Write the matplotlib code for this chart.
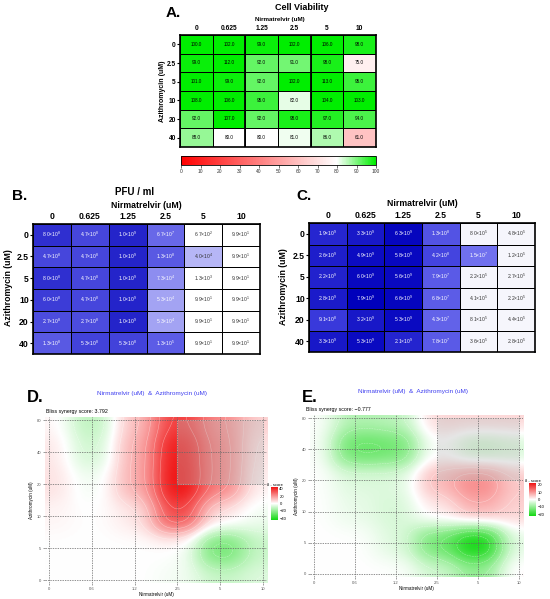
import numpy as np
import matplotlib
matplotlib.use('Agg')
import matplotlib.pyplot as plt
from matplotlib.colors import LinearSegmentedColormap, LogNorm, Normalize
from matplotlib.patches import Rectangle
from matplotlib.cm import ScalarMappable

plt.rcParams['font.family'] = ['Liberation Sans', 'DejaVu Sans']
plt.rcParams['mathtext.fontset'] = 'custom'
plt.rcParams['mathtext.rm'] = 'Liberation Sans'
plt.rcParams['mathtext.default'] = 'regular'

# doses
nirmatrelvir = ['0', '0.625', '1.25', '2.5', '5', '10']
azithromycin = ['0', '2.5', '5', '10', '20', '40']
syn_x_labels = ['0', '0.6', '1.2', '2.5', '5', '10']
syn_y_labels = ['0', '5', '10', '20', '40', '80']

# A. cell viability (%), rows = azithromycin, cols = nirmatrelvir
viability = [
    [100.0, 102.0, 99.0, 102.0, 106.0, 98.0],
    [99.0, 112.0, 92.0, 91.0, 98.0, 75.0],
    [101.0, 99.0, 92.0, 102.0, 113.0, 95.0],
    [108.0, 106.0, 95.0, 82.0, 104.0, 103.0],
    [92.0, 107.0, 92.0, 98.0, 97.0, 94.0],
    [88.0, 80.0, 80.0, 81.0, 86.0, 61.0],
]

# B. PFU / ml
pfu_b = [
    [8.0e8, 4.7e8, 1.0e9, 6.7e7, 6.7e2, 9.9e1],
    [4.7e8, 4.7e8, 1.0e9, 1.3e8, 4.0e4, 9.9e1],
    [8.0e8, 4.7e8, 1.0e9, 7.3e4, 1.3e3, 9.9e1],
    [6.0e8, 4.7e8, 1.0e9, 5.3e4, 9.9e1, 9.9e1],
    [2.7e8, 2.7e8, 1.0e9, 5.3e4, 9.9e1, 9.9e1],
    [1.3e8, 5.3e8, 5.3e8, 1.3e5, 9.9e1, 9.9e1],
]

# C. copies
pfu_c = [
    [1.9e9, 3.3e9, 6.3e9, 1.3e8, 8.0e5, 4.8e5],
    [2.6e9, 4.9e9, 5.8e9, 4.2e8, 1.5e7, 1.2e5],
    [2.2e9, 6.0e9, 5.6e9, 7.9e7, 2.2e5, 2.7e5],
    [2.8e9, 7.9e9, 6.6e9, 6.8e7, 4.1e5, 2.2e5],
    [9.1e8, 3.2e9, 5.3e9, 4.3e7, 8.1e5, 4.4e5],
    [3.3e9, 5.3e9, 2.1e9, 7.8e7, 3.6e5, 2.8e5],
]

# D / E. bliss synergy scores, rows from bottom (azithromycin 0) to top
bliss_d = [
    [0, 0, 0, -2, -10, -6],
    [0, 0, 0, 0, -30, -10],
    [2, 0, 4, 38, 5, -3],
    [6, -3, 15, 48, 25, 2],
    [5, -10, 15, 46, 25, 4],
    [2, -14, 12, 38, 22, 8],
]
bliss_e = [
    [0, 0, 0, -4, -10, 1],
    [0, 0, -3, -14, -25, -2],
    [0, -2, -4, 2, 8, 4],
    [0, -3, -3, 7, 12, 5],
    [0, -15, -14, 0, -6, -4],
    [0, -7, -6, 4, 4, 4],
]
score_d = '3.792'
score_e = '\u22120.777'

W, H = 550, 599
fig = plt.figure(figsize=(5.5, 5.99), dpi=100)


def box(l, t, r, b):
    return [l / W, 1 - b / H, (r - l) / W, (b - t) / H]


def ftext(x, y, s, **kw):
    fig.text(x / W, 1 - y / H, s, **kw)


def sci(v):
    e = int(np.floor(np.log10(v)))
    m = v / 10 ** e
    return r'$%.1f{\times}10^{%d}$' % (m, e)


def table_heatmap(ax, values, cmap, norm, fmt, colfs, cellfs, text_col):
    vals = np.asarray(values, float)
    ax.pcolormesh(np.arange(7), np.arange(7), vals, cmap=cmap, norm=norm,
                  edgecolors='black', linewidth=0.7)
    ax.set_xlim(0, 6)
    ax.set_ylim(6, 0)
    for i in range(6):
        for j in range(6):
            ax.text(j + 0.5, i + 0.5, fmt(vals[i, j]), ha='center', va='center',
                    fontsize=cellfs, color=text_col(norm(vals[i, j])))
    ax.xaxis.tick_top()
    ax.set_xticks(np.arange(6) + 0.5, nirmatrelvir, fontsize=colfs, fontweight='bold')
    ax.set_yticks(np.arange(6) + 0.5, azithromycin, fontsize=colfs, fontweight='bold')
    ax.tick_params(axis='x', length=0, pad=2)
    ax.tick_params(axis='y', length=2, width=0.8, pad=1)
    for s in ax.spines.values():
        s.set_linewidth(1.2)


# ---------- A ----------
viab_cmap = LinearSegmentedColormap.from_list(
    'viab', [(0, '#ff0000'), (0.8, '#ffffff'), (1.0, '#00ee00')])
viab_norm = Normalize(0, 100)
axA = fig.add_axes(box(180, 35, 376, 147))
table_heatmap(axA, viability, viab_cmap, viab_norm, lambda v: '%.1f' % v,
              4.8, 3.3, lambda f: 'black')
for xb in [2, 4]:
    axA.axvline(xb, color='black', lw=1.3)
ftext(302, 8, 'Cell Viability', ha='center', va='center', fontsize=6.5, fontweight='bold')
ftext(280, 19, 'Nirmatrelvir (uM)', ha='center', va='center', fontsize=4.5, fontweight='bold')
ftext(162, 91, 'Azithromycin (uM)', ha='center', va='center', fontsize=5, fontweight='bold', rotation=90)
ftext(166, 13, 'A.', ha='left', va='center', fontsize=11, fontweight='bold')

caxA = fig.add_axes(box(181, 156, 376, 165))
cbA = fig.colorbar(ScalarMappable(norm=viab_norm, cmap=viab_cmap), cax=caxA,
                   orientation='horizontal', ticks=np.arange(0, 101, 10))
cbA.ax.tick_params(labelsize=3.5, length=2, width=0.5, pad=1, colors='#333333')
cbA.outline.set_linewidth(0.6)

# ---------- B / C ----------
blue_cmap_b = LinearSegmentedColormap.from_list(
    'pfu_b', [(0, '#ffffff'), (0.1, '#c4c4f8'), (0.17, '#8c8cf0'), (0.22, '#5c5ce6'),
              (0.76, '#6868e8'), (0.85, '#5050e0'), (0.93, '#4646dc'), (1.0, '#2020c8')])
blue_cmap_c = LinearSegmentedColormap.from_list(
    'pfu_c', [(0, '#f6f6fc'), (0.3, '#7070ee'), (0.5, '#5858e6'), (0.75, '#3c3cdc'),
              (0.9, '#1818c8'), (1.0, '#0000bb')])


axB = fig.add_axes(box(33, 224, 260, 354))
table_heatmap(axB, pfu_b, blue_cmap_b, LogNorm(1.0e4, 1.1e9, clip=True), sci, 6.2, 3.6,
              lambda f: 'white' if f > 0.13 else '#333333')
ftext(135, 192, 'PFU / ml', ha='center', va='center', fontsize=7, fontweight='bold')
ftext(146, 205, 'Nirmatrelvir (uM)', ha='center', va='center', fontsize=6.3, fontweight='bold')
ftext(9, 288, 'Azithromycin (uM)', ha='center', va='center', fontsize=6.3, fontweight='bold', rotation=90)
ftext(12, 196, 'B.', ha='left', va='center', fontsize=11, fontweight='bold')

axC = fig.add_axes(box(309, 223, 535, 352))
table_heatmap(axC, pfu_c, blue_cmap_c, LogNorm(1.0e6, 8.0e9, clip=True), sci, 6.2, 3.6,
              lambda f: 'white' if f > 0.2 else '#333333')
ftext(422, 203, 'Nirmatrelvir (uM)', ha='center', va='center', fontsize=6.3, fontweight='bold')
ftext(283, 287, 'Azithromycin (uM)', ha='center', va='center', fontsize=6.3, fontweight='bold', rotation=90)
ftext(296, 196, 'C.', ha='left', va='center', fontsize=11, fontweight='bold')

# ---------- D / E ----------
syn_cmap = LinearSegmentedColormap.from_list('syn', ['#12d812', '#ffffff', '#f01414'])


def smooth(grid, n=220, sigma=0.62):
    # gaussian-weighted surface over the 6x6 dose grid
    gy, gx = np.mgrid[0:6, 0:6]
    px, py = gx.ravel(), gy.ravel()
    pv = np.asarray(grid, float).ravel()
    s = np.linspace(-0.1, 5.1, n)
    X, Y = np.meshgrid(s, s)
    D2 = (X.ravel()[:, None] - px[None, :]) ** 2 + (Y.ravel()[:, None] - py[None, :]) ** 2
    K = np.exp(-D2 / sigma ** 2)
    return s, ((K @ pv) / K.sum(axis=1)).reshape(X.shape)


def synergy(axbox, cbox, grid, vlim, levels, cticks, title_xy, score, score_xy, letter_xy, letter):
    ax = fig.add_axes(axbox)
    s, surf = smooth(grid)
    ax.imshow(surf, origin='lower', extent=(-0.1, 5.1, -0.1, 5.1), cmap=syn_cmap,
              vmin=-vlim, vmax=vlim, aspect='auto', interpolation='bilinear')
    ax.contour(s, s, surf, levels=levels, colors='white', linewidths=0.35, alpha=0.45)
    ax.add_patch(Rectangle((3, 3), 2, 2, facecolor='#b8b8b8', alpha=0.35,
                           edgecolor='white', lw=0.8, zorder=3))
    for k in range(6):
        ax.axvline(k, color='#666666', lw=0.5, ls=(0, (2, 1.5)), zorder=4)
        ax.axhline(k, color='#666666', lw=0.5, ls=(0, (2, 1.5)), zorder=4)
    ax.set_xlim(-0.1, 5.1)
    ax.set_ylim(-0.1, 5.1)
    ax.set_xticks(range(6), syn_x_labels)
    ax.set_yticks(range(6), syn_y_labels)
    ax.tick_params(labelsize=3, length=1.5, width=0.4, pad=1, colors='#555555')
    for sp in ax.spines.values():
        sp.set_visible(False)
    ax.set_xlabel('Nirmatrelvir (uM)', fontsize=3.3, labelpad=1)
    ax.set_ylabel('Azithromycin (uM)', fontsize=3.3, labelpad=2)
    ftext(title_xy[0], title_xy[1], 'Nirmatrelvir (uM)  &  Azithromycin (uM)',
          ha='center', va='center', fontsize=4.6, color='#4040f0')
    ftext(score_xy[0], score_xy[1], 'Bliss synergy score: ' + score,
          ha='left', va='center', fontsize=3.8)
    ftext(letter_xy[0], letter_xy[1], letter, ha='left', va='center', fontsize=12, fontweight='bold')
    cax = fig.add_axes(cbox)
    cb = fig.colorbar(ScalarMappable(norm=Normalize(-vlim, vlim), cmap=syn_cmap),
                      cax=cax, ticks=cticks)
    cb.ax.tick_params(labelsize=3, length=0, pad=1)
    cb.outline.set_visible(False)
    cax.set_title('\u03b4 - score', fontsize=3, pad=1)


synergy(box(44.7, 416.8, 267.3, 583.2), box(271, 487, 278, 520), bliss_d, 45,
        [-22, -14, -7, 7, 14, 21, 28, 35], [40, 20, 0, -20, -40],
        (152, 393), score_d, (46, 412), (27, 397), 'D.')
synergy(box(309.9, 414.9, 523.1, 577.1), box(529, 483, 536, 516), bliss_e, 22,
        [-17, -13, -9, -5, 5, 8], [20, 10, 0, -10, -20],
        (413, 392), score_e, (306, 410), (302, 397), 'E.')

fig.savefig('out.png', dpi=100)
